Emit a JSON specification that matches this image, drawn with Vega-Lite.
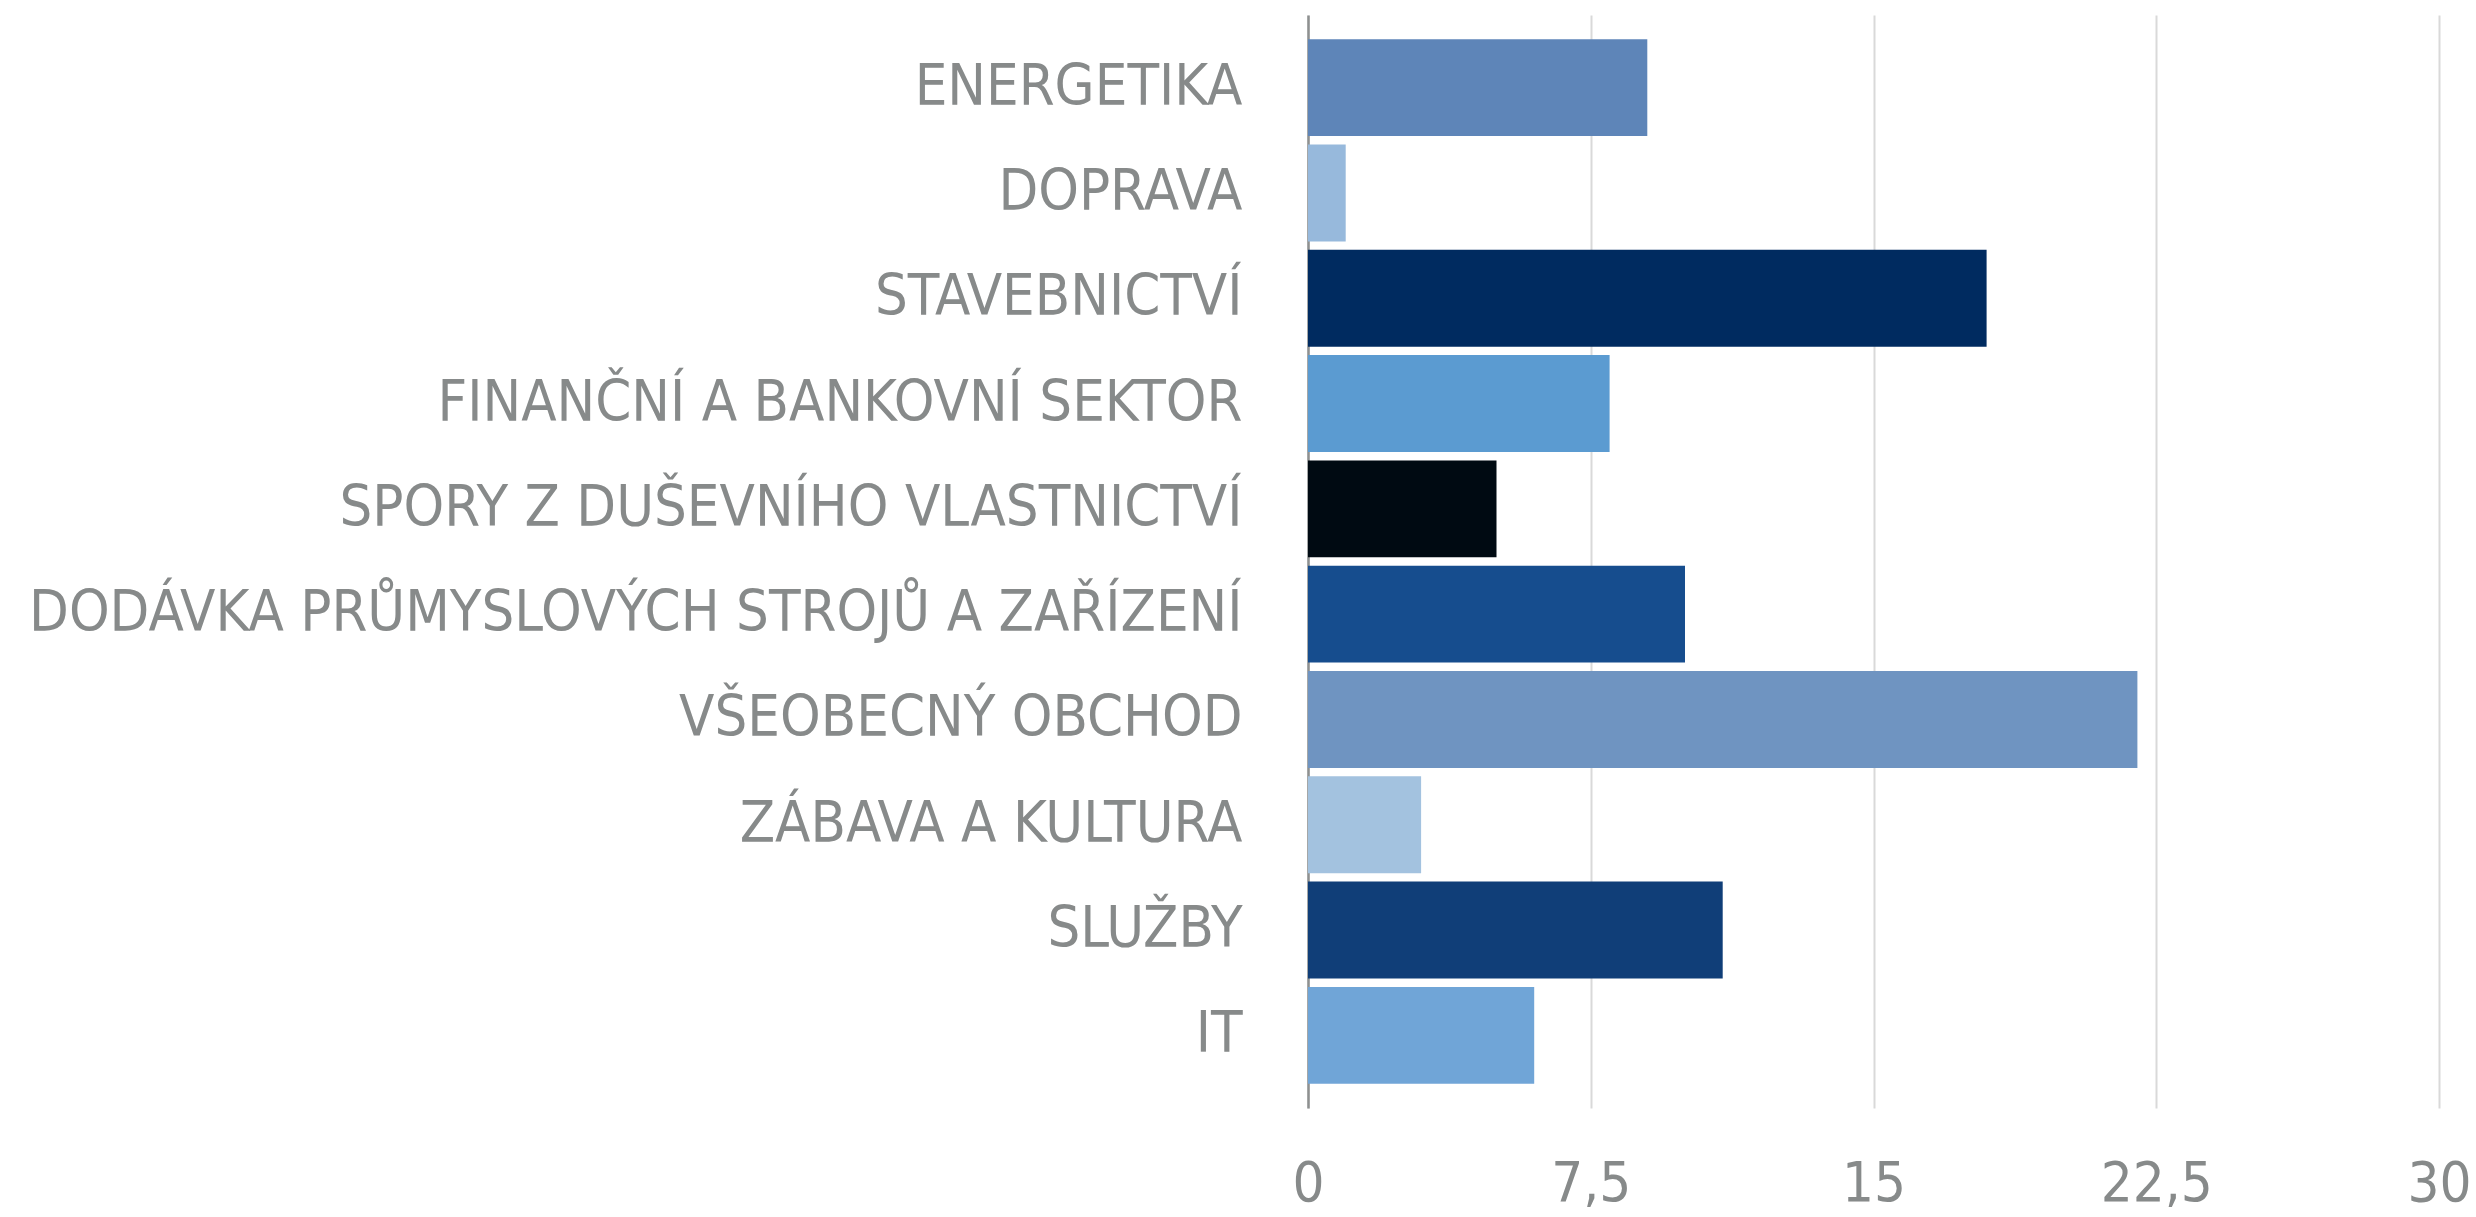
{
  "$schema": "https://vega.github.io/schema/vega-lite/v6.json",
  "autosize": "none",
  "width": 1131,
  "height": 1093,
  "padding": {"left": 1308, "top": 15, "right": 37, "bottom": 109},
  "background": "white",
  "config": {"view": {"stroke": null}},
  "data": {
    "values": [
      {"sektor": "ENERGETIKA", "pocet": 9},
      {"sektor": "DOPRAVA", "pocet": 1},
      {"sektor": "STAVEBNICTVÍ", "pocet": 18},
      {"sektor": "FINANČNÍ A BANKOVNÍ SEKTOR", "pocet": 8},
      {"sektor": "SPORY Z DUŠEVNÍHO VLASTNICTVÍ", "pocet": 5},
      {"sektor": "DODÁVKA PRŮMYSLOVÝCH STROJŮ A ZAŘÍZENÍ", "pocet": 10},
      {"sektor": "VŠEOBECNÝ OBCHOD", "pocet": 22},
      {"sektor": "ZÁBAVA A KULTURA", "pocet": 3},
      {"sektor": "SLUŽBY", "pocet": 11},
      {"sektor": "IT", "pocet": 6}
    ]
  },
  "mark": {"type": "bar"},
  "encoding": {
    "y": {
      "field": "sektor",
      "type": "nominal",
      "sort": null,
      "title": null,
      "scale": {"paddingInner": 0.08, "paddingOuter": 0.23},
      "axis": {
        "ticks": false,
        "tickSize": 0,
        "labelPadding": 66,
        "labelFont": "DejaVu Sans Condensed",
        "labelFontSize": 57.5,
        "labelColor": "#878a8a",
        "labelLimit": 2000,
        "domainColor": "#8e9090",
        "domainWidth": 2.5,
        "grid": false
      }
    },
    "x": {
      "field": "pocet",
      "type": "quantitative",
      "title": null,
      "scale": {"domain": [0, 30], "nice": false},
      "axis": {
        "values": [0, 7.5, 15, 22.5, 30],
        "labelExpr": "replace(toString(datum.value), '.', ',')",
        "ticks": false,
        "tickSize": 0,
        "domain": false,
        "labelPadding": 92,
        "labelBaseline": "alphabetic",
        "labelFont": "DejaVu Sans Condensed",
        "labelFontSize": 56,
        "labelColor": "#878a8a",
        "labelFlush": false,
        "labelOverlap": false,
        "grid": true,
        "gridColor": "#d9d9d9",
        "gridWidth": 2
      }
    },
    "color": {
      "field": "sektor",
      "type": "nominal",
      "legend": null,
      "scale": {
        "domain": ["ENERGETIKA", "DOPRAVA", "STAVEBNICTVÍ", "FINANČNÍ A BANKOVNÍ SEKTOR", "SPORY Z DUŠEVNÍHO VLASTNICTVÍ", "DODÁVKA PRŮMYSLOVÝCH STROJŮ A ZAŘÍZENÍ", "VŠEOBECNÝ OBCHOD", "ZÁBAVA A KULTURA", "SLUŽBY", "IT"],
        "range": ["#5e85b8", "#97b9dc", "#002b60", "#5b9bd1", "#000a12", "#164d8e", "#6f94c1", "#a3c2df", "#103e78", "#70a5d7"]
      }
    }
  }
}
